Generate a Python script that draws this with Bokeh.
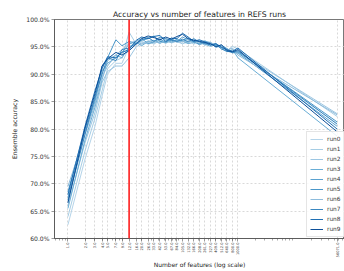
from bokeh.plotting import figure
from bokeh.models import FixedTicker, Range1d, Span, PrintfTickFormatter, Legend, LegendItem
from bokeh.embed import file_html
from bokeh.resources import INLINE
import math

# ---- data ----
n_features = [1, 2, 3, 4, 5, 7, 9, 12, 16, 20, 26, 33, 42, 53, 67, 84, 105, 132, 166, 208,
              261, 327, 409, 512, 640, 800, 1000, 56071]
tick_labels = ["1.0", "2.0", "3.0", "4.0", "5.0", "7.0", "9.0", "12.0", "16.0", "20.0", "26.0",
               "33.0", "42.0", "53.0", "67.0", "84.0", "105.0", "132.0", "166.0", "208.0",
               "261.0", "327.0", "409.0", "512.0", "640.0", "800.0", "1000.0", "56071.0"]
run_names = ["run0", "run1", "run2", "run3", "run4", "run5", "run6", "run7", "run8", "run9"]
run0 = [62.5, 74.5, 80.5, 86.0, 90.0, 92.0, 92.0, 95.0, 95.5, 95.8, 95.6, 95.9, 96.2, 95.7, 96.0, 95.9, 95.6, 95.8, 96.1, 95.7, 95.4, 95.9, 95.2, 94.8, 94.6, 94.0, 93.8, 81.0]
run1 = [64.0, 76.0, 82.0, 87.0, 91.0, 92.5, 93.0, 97.7, 95.5, 96.0, 95.5, 95.8, 95.9, 96.5, 95.8, 96.2, 95.5, 96.3, 95.9, 95.8, 96.2, 95.4, 95.6, 95.0, 94.3, 95.1, 94.6, 82.3]
run2 = [66.0, 77.5, 83.0, 88.5, 90.5, 91.5, 91.5, 93.0, 95.0, 95.6, 96.1, 95.5, 96.3, 95.6, 96.6, 95.8, 96.0, 95.7, 96.3, 96.0, 95.7, 95.5, 95.3, 94.9, 94.6, 94.2, 94.1, 82.8]
run3 = [65.5, 78.0, 84.0, 89.0, 92.5, 93.5, 93.0, 95.0, 95.8, 95.2, 96.0, 96.2, 95.7, 96.0, 95.9, 96.4, 96.1, 95.6, 95.8, 96.2, 95.5, 95.1, 95.4, 94.8, 94.1, 94.5, 93.0, 78.7]
run4 = [67.5, 79.5, 85.0, 90.5, 92.0, 93.0, 94.0, 95.5, 96.0, 96.5, 95.6, 95.9, 96.5, 95.8, 96.2, 96.0, 96.8, 96.3, 95.9, 95.6, 96.0, 95.8, 95.0, 95.3, 94.7, 94.0, 93.9, 80.5]
run5 = [68.5, 80.0, 85.5, 91.5, 93.0, 96.3, 95.2, 96.0, 95.6, 96.2, 96.5, 97.0, 96.0, 95.9, 96.4, 96.0, 96.2, 96.6, 96.0, 95.4, 95.8, 95.6, 95.2, 95.1, 94.5, 93.9, 94.1, 81.3]
run6 = [69.5, 79.0, 84.5, 89.5, 91.5, 93.5, 94.5, 95.8, 96.0, 95.5, 95.8, 96.1, 95.6, 96.3, 95.7, 96.1, 95.9, 96.4, 95.5, 96.1, 95.3, 95.7, 94.9, 95.2, 94.4, 94.8, 93.5, 82.6]
run7 = [67.0, 79.0, 86.0, 90.0, 93.0, 92.5, 94.5, 94.8, 95.6, 96.3, 96.7, 96.0, 96.8, 96.5, 96.2, 96.0, 96.4, 95.9, 96.5, 95.9, 95.6, 95.4, 95.5, 94.6, 94.2, 94.0, 94.3, 80.9]
run8 = [68.0, 80.5, 87.0, 91.0, 93.2, 93.0, 94.0, 94.5, 96.2, 96.8, 96.5, 96.9, 97.1, 96.0, 96.6, 96.5, 97.5, 96.8, 96.0, 96.3, 95.9, 95.3, 95.6, 94.9, 94.5, 94.2, 94.8, 80.0]
run9 = [66.5, 80.2, 86.5, 91.5, 92.8, 94.0, 93.5, 94.3, 95.5, 96.5, 97.0, 96.7, 96.3, 96.8, 96.4, 96.9, 97.3, 96.5, 96.2, 96.0, 95.8, 95.6, 95.0, 95.4, 94.3, 94.1, 94.5, 79.5]
runs = [run0, run1, run2, run3, run4, run5, run6, run7, run8, run9]
selected_features = 12
y_ticks = [60, 65, 70, 75, 80, 85, 90, 95, 100]

colors = ["#b5d4e9", "#a6cde4", "#9cc6e2", "#6aaed6", "#5ba2d0",
          "#4a97c9", "#8ebcdc", "#3a87c0", "#2070b4", "#0c4f98"]

FONT = "DejaVu Sans"

p = figure(width=344, height=271, x_axis_type="log",
           x_range=Range1d(0.579, 75900), y_range=Range1d(60, 100),
           output_backend="svg", toolbar_location=None,
           title="Accuracy vs number of features in REFS runs",
           min_border_left=54, min_border_right=0, min_border_top=19, min_border_bottom=0)

p.background_fill_color = "white"
p.border_fill_color = "white"
p.outline_line_color = "#555555"
p.outline_line_width = 0.8

p.title.text_font = FONT
p.title.text_font_size = "7.7px"
p.title.text_font_style = "normal"
p.title.text_color = "#222222"
p.title.align = "center"
p.title.offset = 4
p.title.standoff = 1

# x axis
minor = [k * 10 ** d for d in range(-1, 5) for k in range(2, 10)]
p.xaxis.ticker = FixedTicker(ticks=n_features, minor_ticks=minor)
p.xaxis.major_label_overrides = {x: lab for x, lab in zip(n_features, tick_labels)}
p.xaxis.major_label_orientation = math.pi / 2
p.xaxis.major_label_text_font_size = "3.6px"
p.xaxis.major_label_text_font = FONT
p.xaxis.major_label_standoff = 1
p.xaxis.axis_label = "Number of features (log scale)"
p.xaxis.axis_label_text_font = FONT
p.xaxis.axis_label_text_font_size = "6px"
p.xaxis.axis_label_text_font_style = "normal"
p.xaxis.axis_label_standoff = 1

# y axis
p.yaxis.ticker = FixedTicker(ticks=y_ticks)
p.yaxis.formatter = PrintfTickFormatter(format="%.1f%%")
p.yaxis.major_label_text_font_size = "6.1px"
p.yaxis.major_label_text_font = FONT
p.yaxis.major_label_standoff = 2
p.yaxis.axis_label = "Ensemble accuracy"
p.yaxis.axis_label_text_font = FONT
p.yaxis.axis_label_text_font_size = "6.2px"
p.yaxis.axis_label_text_font_style = "normal"
p.yaxis.axis_label_standoff = 5
p.yaxis.minor_tick_line_color = None

for ax in (p.xaxis, p.yaxis):
    ax.axis_line_color = "#555555"
    ax.axis_line_width = 0.8
    ax.major_tick_line_color = "#555555"
    ax.major_tick_line_width = 0.6
    ax.major_tick_out = 3
    ax.major_tick_in = 0
    ax.major_label_text_color = "#333333"
    ax.axis_label_text_color = "#222222"
p.xaxis.minor_tick_line_color = "#555555"
p.xaxis.minor_tick_line_width = 0.5
p.xaxis.minor_tick_out = 2
p.xaxis.minor_tick_in = 0

for g in (p.xgrid, p.ygrid):
    g.grid_line_color = "#c8c8c8"
    g.grid_line_dash = "2 2"
    g.grid_line_width = 0.7
p.xgrid.ticker = FixedTicker(ticks=n_features)
p.ygrid.ticker = FixedTicker(ticks=y_ticks)

items = []
for name, ys, c in zip(run_names, runs, colors):
    r = p.line(n_features, ys, line_color=c, line_width=1.0)
    items.append(LegendItem(label=name, renderers=[r]))

p.add_layout(Span(location=selected_features, dimension="height",
                  line_color="#ff2020", line_width=1.6))

legend = Legend(items=items, location=(252, 1))
legend.label_text_font = FONT
legend.label_text_font_size = "5.8px"
legend.label_text_color = "#333333"
legend.label_height = 8
legend.glyph_height = 8
legend.glyph_width = 13
legend.label_standoff = 4
legend.spacing = 2
legend.padding = 3
legend.margin = 0
legend.border_line_color = "#cccccc"
legend.border_line_width = 0.8
legend.background_fill_alpha = 0.85
p.add_layout(legend)

open("out.html", "w").write(file_html(p, INLINE))
